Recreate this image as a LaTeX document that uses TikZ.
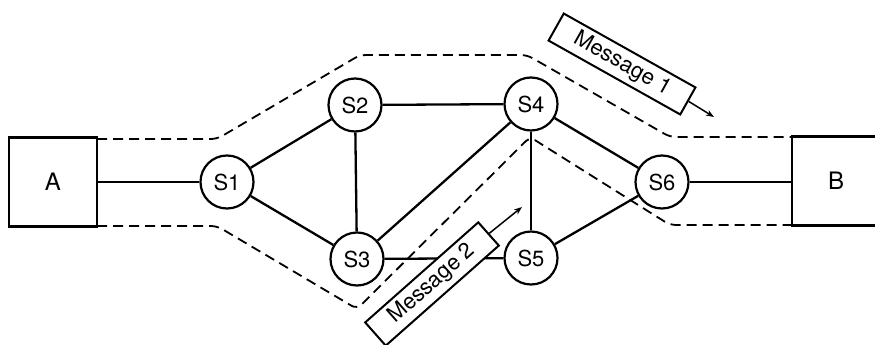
\documentclass[tikz,border=0pt]{standalone}
\usepackage{fontspec}
\setmainfont{TeX Gyre Heros}
\usetikzlibrary{arrows.meta}
\begin{document}
\begin{tikzpicture}[x=1pt,y=-1pt,
  sw/.style={circle,draw,line width=2.2pt,minimum size=53pt,inner sep=0pt,fill=white,font=\fontsize{22}{24}\selectfont},
  host/.style={draw,line width=2.3pt,inner sep=0pt,font=\fontsize{24}{26}\selectfont},
  link/.style={line width=2.3pt},
  vc/.style={line width=1.8pt,dash pattern=on 10pt off 6pt,rounded corners=6pt},
  msg/.style={draw,line width=2pt,fill=white,minimum width=151pt,minimum height=31pt,inner sep=0pt,font=\fontsize{22}{24}\selectfont},
  marrow/.style={line width=1.5pt,-{Stealth[length=8pt,width=6pt]}}
]
\useasboundingbox (0,0) rectangle (875,345);
\clip (0,0) rectangle (875,345);
\fill[white] (0,0) rectangle (875,345);

% hosts
\node[host,minimum width=88pt,minimum height=89pt] (A) at (53,182) {A};
\node[host,minimum width=88pt,minimum height=89pt] (B) at (836,181) {B};

% virtual circuits (dashed)
\coordinate (u0) at (97,139);
\coordinate (u5) at (792,137);
\coordinate (l0) at (97,226);
\coordinate (l5) at (792,225);
\draw[vc] (u0) -- (217,139) -- (360,55) -- (527,55) -- (670,137) -- (u5);
\draw[vc] (l0) -- (217,226) -- (357,309) -- (530,137) -- (670,225) -- (l5);

% switches
\node[sw] (S1) at (227,182) {S1};
\node[sw] (S2) at (355,105) {S2};
\node[sw] (S3) at (357,259) {S3};
\node[sw] (S4) at (531,104) {S4};
\node[sw] (S5) at (531,258) {S5};
\node[sw] (S6) at (662,182) {S6};

% links
\draw[link] (A.east |- S1) -- (S1);
\draw[link] (S1) -- (S2);
\draw[link] (S1) -- (S3);
\draw[link] (S2) -- (S3);
\draw[link] (S2) -- (S4);
\draw[link] (S3) -- (S4);
\draw[link] (S3) -- (S5);
\draw[link] (S4) -- (S5);
\draw[link] (S4) -- (S6);
\draw[link] (S5) -- (S6);
\draw[link] (S6) -- (B.west |- S6);

% messages
\node[msg,rotate=-29.3] (m1) at (622,64) {Message 1};
\coordinate (m1tip) at (714,117);
\draw[marrow] (m1.east) -- (m1tip);

\node[msg,rotate=41.5] (m2) at (432,284) {Message 2};
\coordinate (m2tip) at (522,207);
\draw[marrow] (m2.east) -- (m2tip);
\end{tikzpicture}
\end{document}
